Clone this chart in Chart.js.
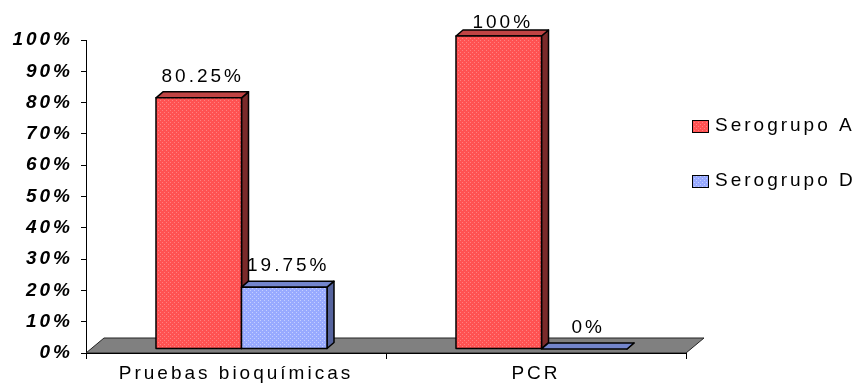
<!DOCTYPE html>
<html>
<head>
<meta charset="utf-8">
<script src="https://cdn.jsdelivr.net/npm/chart.js@4/dist/chart.umd.min.js"></script>
<style>
  html, body { margin: 0; padding: 0; background: #fff; }
  #grafica { display: block; }
</style>
</head>
<body>
<canvas id="grafica" width="856" height="383"></canvas>
<script>
// datos
const categorias = ['Pruebas bioquímicas', 'PCR'];
const nombresSeries = ['Serogrupo A', 'Serogrupo D'];
const serogrupoA = [80.25, 100];
const serogrupoD = [19.75, 0];
const ejeYMin = 0;
const ejeYMax = 100;
const ejeYPaso = 10;

const FUENTE = '"Liberation Sans", Arial, sans-serif';
const ESPACIADO = '3px';

// desplazamientos del efecto 3D
const FRENTE = { dx: 5.5, dy: -4 };
const FONDO_BARRA = { dx: 7, dy: -6 };
const PISO = { dx: 18, dy: -15 };

const canvas = document.getElementById('grafica');
const ctx = canvas.getContext('2d');

function crearPatron(base, punto) {
    const c = document.createElement('canvas');
    c.width = 4; c.height = 4;
    const g = c.getContext('2d');
    g.fillStyle = base;
    g.fillRect(0, 0, 4, 4);
    g.fillStyle = punto;
    g.fillRect(0, 0, 1, 1);
    g.fillRect(2, 2, 1, 1);
    return ctx.createPattern(c, 'repeat');
}

const estilos = [
    { frente: crearPatron('#ff5252', '#ff8080'), lado: '#7a2a2a', arriba: '#c04444' },
    { frente: crearPatron('#98aaff', '#c4cfff'), lado: '#56649e', arriba: '#7385cc' }
];

function fmt(v) { return v + '%'; }

const barras3d = {
    id: 'barras3d',
    beforeLayout(chart) { chart.ctx.letterSpacing = ESPACIADO; },
    beforeDraw(chart) { chart.ctx.letterSpacing = ESPACIADO; },
    beforeDatasetsDraw(chart) {
        const c = chart.ctx;
        const x = chart.scales.x;
        const y = chart.scales.y;
        const y0 = y.getPixelForValue(0);

        c.save();
        // piso
        c.beginPath();
        c.moveTo(x.left, y0);
        c.lineTo(x.right, y0);
        c.lineTo(x.right + PISO.dx, y0 + PISO.dy);
        c.lineTo(x.left + PISO.dx, y0 + PISO.dy);
        c.closePath();
        c.fillStyle = '#808080';
        c.fill();
        c.strokeStyle = '#222';
        c.lineWidth = 1;
        c.stroke();
        c.beginPath();
        c.moveTo(x.left, y0 + 0.5);
        c.lineTo(x.right, y0 + 0.5);
        c.strokeStyle = '#000';
        c.stroke();

        // etiquetas de datos (detrás de las barras)
        c.font = '19px ' + FUENTE;
        c.fillStyle = '#000';
        c.textAlign = 'center';
        c.textBaseline = 'middle';
        chart.data.datasets.forEach((ds, i) => {
            chart.getDatasetMeta(i).data.forEach((bar, j) => {
                const p = bar.getProps(['x', 'y'], true);
                const top = p.y + FRENTE.dy;
                const ty = Math.max(top - 21, 23);
                c.fillText(fmt(ds.data[j]), p.x + FRENTE.dx + 4, ty);
            });
        });

        // barras 3D
        c.lineWidth = 1.5;
        c.lineJoin = 'round';
        c.strokeStyle = '#000';
        categorias.forEach((cat, j) => {
            chart.data.datasets.forEach((ds, i) => {
                const bar = chart.getDatasetMeta(i).data[j];
                const p = bar.getProps(['x', 'y', 'base', 'width'], true);
                const L = p.x - p.width / 2 + FRENTE.dx;
                const R = p.x + p.width / 2 + FRENTE.dx;
                const T = p.y + FRENTE.dy;
                const B = p.base + FRENTE.dy;
                const e = estilos[i];
                const dx = FONDO_BARRA.dx, dy = FONDO_BARRA.dy;

                // lado
                c.beginPath();
                c.moveTo(R, T); c.lineTo(R + dx, T + dy); c.lineTo(R + dx, B + dy); c.lineTo(R, B);
                c.closePath();
                c.fillStyle = e.lado; c.fill(); c.stroke();
                // arriba
                c.beginPath();
                c.moveTo(L, T); c.lineTo(L + dx, T + dy); c.lineTo(R + dx, T + dy); c.lineTo(R, T);
                c.closePath();
                c.fillStyle = e.arriba; c.fill(); c.stroke();
                // frente
                if (B - T > 0.5) {
                    c.fillStyle = e.frente;
                    c.fillRect(L, T, R - L, B - T);
                    c.strokeRect(L, T, R - L, B - T);
                }
            });
        });
        c.restore();
        return false;
    },
    afterDraw(chart) {
        // leyenda
        const c = chart.ctx;
        c.save();
        c.letterSpacing = ESPACIADO;
        c.font = '19px ' + FUENTE;
        c.textAlign = 'left';
        c.textBaseline = 'middle';
        chart.data.datasets.forEach((ds, i) => {
            const by = 120 + i * 55;
            c.fillStyle = estilos[i].frente;
            c.fillRect(692, by, 17, 13);
            c.strokeStyle = '#000';
            c.lineWidth = 1;
            c.strokeRect(692.5, by + 0.5, 16, 12);
            c.fillStyle = '#000';
            c.fillText(ds.label, 715, by + 6);
        });
        c.restore();
    }
};

new Chart(ctx, {
    type: 'bar',
    data: {
        labels: categorias,
        datasets: [
            { label: nombresSeries[0], data: serogrupoA, backgroundColor: '#ff5a5a' },
            { label: nombresSeries[1], data: serogrupoD, backgroundColor: '#99aaff' }
        ]
    },
    options: {
        responsive: false,
        animation: false,
        categoryPercentage: 0.57,
        barPercentage: 1,
        layout: { padding: { top: 40, right: 170, left: 0, bottom: 0 } },
        scales: {
            x: {
                afterFit(s) { s.height = 30; },
                grid: { drawOnChartArea: false, tickLength: 6, color: '#000', offset: true },
                border: { color: '#000' },
                ticks: {
                    color: '#000',
                    maxRotation: 0,
                    autoSkip: false,
                    padding: 3,
                    font: { family: FUENTE, size: 19 }
                }
            },
            y: {
                min: ejeYMin,
                max: ejeYMax,
                afterFit(s) { s.width = 86; },
                grid: { drawOnChartArea: false, tickLength: 5, color: '#000' },
                border: { color: '#000' },
                ticks: {
                    stepSize: ejeYPaso,
                    color: '#000',
                    padding: 8,
                    callback: v => fmt(v),
                    font: { family: FUENTE, size: 19, weight: 'bold', style: 'italic' }
                }
            }
        },
        plugins: {
            legend: { display: false },
            tooltip: { enabled: false }
        }
    },
    plugins: [barras3d]
});
</script>
</body>
</html>
